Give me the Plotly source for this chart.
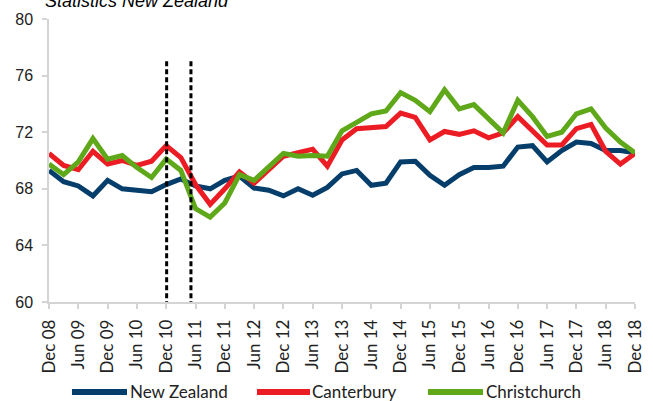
import plotly.graph_objects as go

# Quarterly, Dec 2008 .. Dec 2018
quarters = list(range(41))
tick_pos = list(range(0, 41, 2))
tick_labels = ["Dec 08", "Jun 09", "Dec 09", "Jun 10", "Dec 10", "Jun 11", "Dec 11",
               "Jun 12", "Dec 12", "Jun 13", "Dec 13", "Jun 14", "Dec 14", "Jun 15",
               "Dec 15", "Jun 16", "Dec 16", "Jun 17", "Dec 17", "Jun 18", "Dec 18"]

new_zealand = [69.3, 68.5, 68.2, 67.5, 68.6, 68.0, 67.9, 67.8, 68.3, 68.7,
               68.2, 68.0, 68.6, 68.9, 68.05, 67.9, 67.5, 68.0, 67.55, 68.1,
               69.05, 69.3, 68.25, 68.4, 69.9, 69.95, 68.95, 68.25, 69.0, 69.5,
               69.5, 69.6, 70.95, 71.05, 69.9, 70.7, 71.3, 71.2, 70.7, 70.7, 70.55]
canterbury = [70.5, 69.65, 69.35, 70.65, 69.75, 70.0, 69.65, 69.95, 71.05, 70.2,
              68.3, 66.9, 68.0, 69.2, 68.4, 69.35, 70.3, 70.55, 70.8, 69.6,
              71.45, 72.25, 72.3, 72.4, 73.35, 73.05, 71.45, 72.05, 71.85, 72.1,
              71.6, 71.95, 73.1, 72.15, 71.1, 71.1, 72.25, 72.55, 70.65, 69.75, 70.5]
christchurch = [69.75, 69.0, 69.9, 71.55, 70.1, 70.35, 69.5, 68.8, 70.1, 69.3,
                66.6, 66.0, 67.0, 69.0, 68.6, 69.5, 70.5, 70.3, 70.35, 70.3,
                72.1, 72.7, 73.3, 73.5, 74.8, 74.25, 73.45, 75.0, 73.65, 73.95,
                72.9, 71.95, 74.25, 73.1, 71.7, 72.0, 73.3, 73.65, 72.3, 71.3, 70.55]

# Earthquake markers (quarter positions) and their vertical extent
quake_x = [8.03, 9.69]
quake_y = [59.7, 77.1]

series_names = ["New Zealand", "Canterbury", "Christchurch"]
series_values = [new_zealand, canterbury, christchurch]
series_colors = ["#063e6b", "#ec1c24", "#5fa81a"]

# legend layout (paper fractions)
leg_line_x = [(0.0392, 0.1331), (0.3549, 0.4454), (0.6468, 0.7406)]
leg_text_x = [0.1348, 0.4454, 0.7423]
leg_y = -0.318

fig = go.Figure()
for name, vals, col in zip(series_names, series_values, series_colors):
    fig.add_trace(go.Scatter(x=quarters, y=vals, mode="lines", name=name,
                             line=dict(color=col, width=5), cliponaxis=False,
                             showlegend=False))

for qx in quake_x:
    fig.add_shape(type="line", xref="x", yref="y", x0=qx, x1=qx,
                  y0=quake_y[0], y1=quake_y[1],
                  line=dict(color="black", width=3, dash="5px,3px"))

for name, col, (lx0, lx1), tx in zip(series_names, series_colors, leg_line_x, leg_text_x):
    fig.add_shape(type="line", xref="paper", yref="paper", x0=lx0, x1=lx1,
                  y0=leg_y, y1=leg_y, line=dict(color=col, width=6))
    fig.add_annotation(text=name, xref="paper", yref="paper", x=tx, y=leg_y,
                       xanchor="left", yanchor="middle", showarrow=False,
                       font=dict(family="Lato", size=17, color="#222"))

fig.add_annotation(text="<i>Statistics New Zealand</i>", xref="paper", yref="paper",
                   x=-0.0105, y=1.022, xanchor="left", yanchor="bottom", showarrow=False,
                   font=dict(family="Liberation Sans", size=18, color="#000"))

fig.update_layout(
    template="none",
    width=653, height=401,
    margin=dict(l=49, r=18, t=19, b=99, autoexpand=False),
    paper_bgcolor="white", plot_bgcolor="white",
    showlegend=False,
    xaxis=dict(range=[0, 40], tickmode="array", tickvals=tick_pos, ticktext=tick_labels,
               tickangle=-90, showgrid=False, zeroline=False, automargin=False,
               showline=True, linecolor="#d4d4d4", linewidth=1.5,
               ticks="outside", ticklen=5, tickcolor="#d4d4d4", tickwidth=1.5,
               ticklabelstandoff=4,
               tickfont=dict(family="Lato", size=17, color="#222")),
    yaxis=dict(range=[60, 80], tickmode="array", tickvals=[60, 64, 68, 72, 76, 80],
               showgrid=False, zeroline=False, automargin=False,
               showline=True, linecolor="#d4d4d4", linewidth=1.5,
               ticks="outside", ticklen=5, tickcolor="#d4d4d4", tickwidth=1.5,
               ticklabelstandoff=6,
               tickfont=dict(family="Liberation Sans", size=16, color="#222")),
)

fig.write_html("out.html",
               config={"displayModeBar": False},
               post_script="document.body.style.margin='0';document.body.style.overflow='hidden';")
